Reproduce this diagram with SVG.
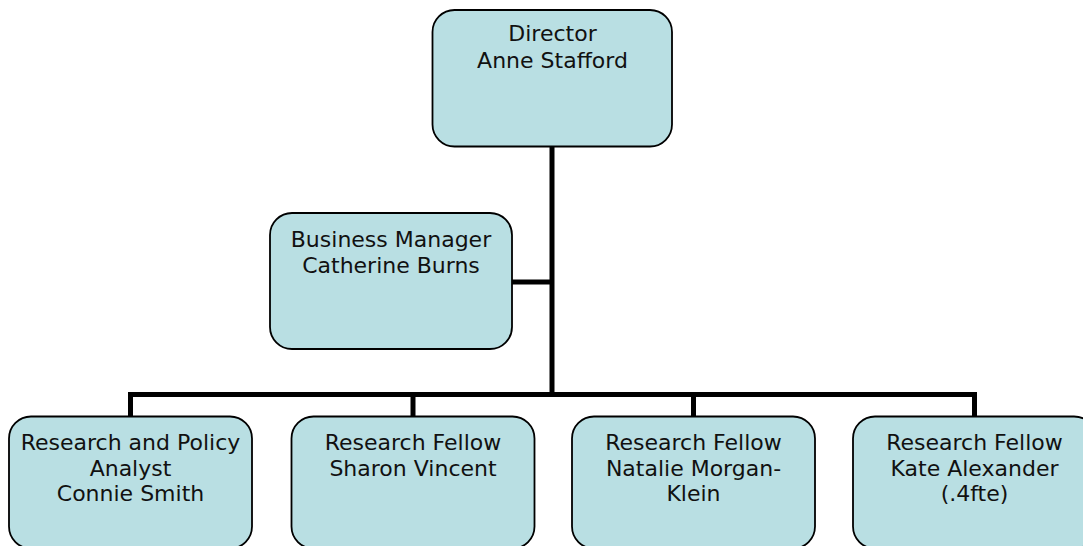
<svg xmlns="http://www.w3.org/2000/svg" width="1083" height="546" viewBox="0 0 1083 546">
<style>
.box{fill:#B9DFE3;stroke:#000;stroke-width:1.8}
.t{font-family:"DejaVu Sans","Liberation Sans",sans-serif;font-size:22px;fill:#111;text-anchor:middle}
.c{stroke:#000;stroke-width:5;fill:none;stroke-linecap:butt;stroke-linejoin:miter}
</style>
<rect width="1083" height="546" fill="#fff"/>
<g id="connectors">
<path class="c" d="M552 146 V394.5"/>
<path class="c" d="M512 282 H552"/>
<path class="c" d="M130.5 417 V394.5 H974.5 V417"/>
<path class="c" d="M413 394.5 V417"/>
<path class="c" d="M693.5 394.5 V417"/>
</g>
<g id="director">
<rect class="box" x="432.5" y="10" width="239.5" height="136.5" rx="22"/>
<text class="t" x="552.5" y="41">Director</text>
<text class="t" x="552.5" y="67.5">Anne Stafford</text>
</g>
<g id="business-manager">
<rect class="box" x="270" y="213" width="242" height="136" rx="22"/>
<text class="t" x="391" y="247">Business Manager</text>
<text class="t" x="391" y="273">Catherine Burns</text>
</g>
<g id="analyst">
<rect class="box" x="9" y="416.5" width="243" height="132" rx="22"/>
<text class="t" x="130.5" y="450">Research and Policy</text>
<text class="t" x="130.5" y="475.5">Analyst</text>
<text class="t" x="130.5" y="501">Connie Smith</text>
</g>
<g id="fellow-vincent">
<rect class="box" x="291.5" y="416.5" width="243" height="132" rx="22"/>
<text class="t" x="413" y="450">Research Fellow</text>
<text class="t" x="413" y="475.5">Sharon Vincent</text>
</g>
<g id="fellow-morgan-klein">
<rect class="box" x="572" y="416.5" width="243" height="132" rx="22"/>
<text class="t" x="693.5" y="450">Research Fellow</text>
<text class="t" x="693.5" y="475.5">Natalie Morgan-</text>
<text class="t" x="693.5" y="501">Klein</text>
</g>
<g id="fellow-alexander">
<rect class="box" x="853" y="416.5" width="243" height="132" rx="22"/>
<text class="t" x="974.5" y="450">Research Fellow</text>
<text class="t" x="974.5" y="475.5">Kate Alexander</text>
<text class="t" x="974.5" y="501">(.4fte)</text>
</g>
</svg>
